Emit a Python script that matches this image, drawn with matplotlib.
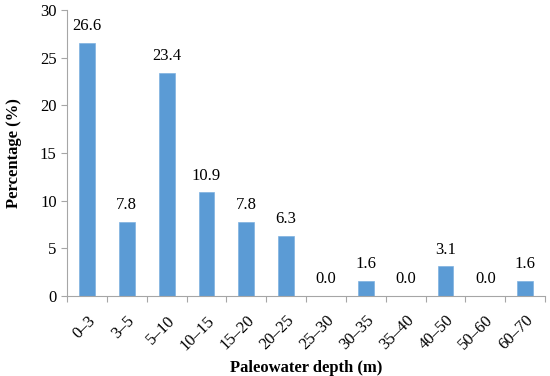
import matplotlib
matplotlib.use("Agg")
import matplotlib.pyplot as plt
import matplotlib.transforms as mtransforms
from matplotlib.ticker import FixedLocator

categories = ["0–3", "3–5", "5–10", "10–15", "15–20", "20–25", "25–30",
              "30–35", "35–40", "40–50", "50–60", "60–70"]
values = [26.6, 7.8, 23.4, 10.9, 7.8, 6.3, 0.0, 1.6, 0.0, 3.1, 0.0, 1.6]
yticks = [0, 5, 10, 15, 20, 25, 30]

plt.rcParams['font.family'] = ['Liberation Serif', 'DejaVu Serif']
fs = 12

fig = plt.figure(figsize=(5.5, 3.76), dpi=100)
ax = fig.add_axes([0.122, 0.213, 0.869, 0.76])

x = list(range(len(categories)))
ax.bar(x, values, width=0.4, color='#5B9BD5', edgecolor='#7FB2E0', linewidth=0.5, zorder=2)
for xi, v in zip(x, values):
    ax.text(xi, v + 0.9, f"{v:.1f}", ha='center', va='bottom', fontsize=fs)

ax.set_xlim(-0.5, len(categories) - 0.5)
ax.set_ylim(0, 30)
ax.set_yticks(yticks)
ax.set_xticks(x)
ax.set_xticklabels(categories, rotation=45, ha='right', rotation_mode='anchor', fontsize=fs)
offset = mtransforms.ScaledTranslation(6 / 100, 0, fig.dpi_scale_trans)
for lbl in ax.get_xticklabels():
    lbl.set_transform(lbl.get_transform() + offset)
ax.xaxis.set_minor_locator(FixedLocator([i + 0.5 for i in range(-1, len(categories))]))
ax.tick_params(axis='x', which='major', length=0, pad=12)
ax.tick_params(axis='x', which='minor', length=4, color='#A6A6A6', width=0.8)
ax.tick_params(axis='y', length=4, color='#A6A6A6', width=0.8, labelsize=fs)

for s in ['top', 'right']:
    ax.spines[s].set_visible(False)
for s in ['left', 'bottom']:
    ax.spines[s].set_color('#A6A6A6')
    ax.spines[s].set_linewidth(0.8)

ax.set_ylabel("Percentage (%)", fontsize=fs, fontweight='bold', labelpad=13)
ax.set_xlabel("Paleowater depth (m)", fontsize=fs, fontweight='bold', labelpad=5)

fig.savefig("out.png", dpi=100)
